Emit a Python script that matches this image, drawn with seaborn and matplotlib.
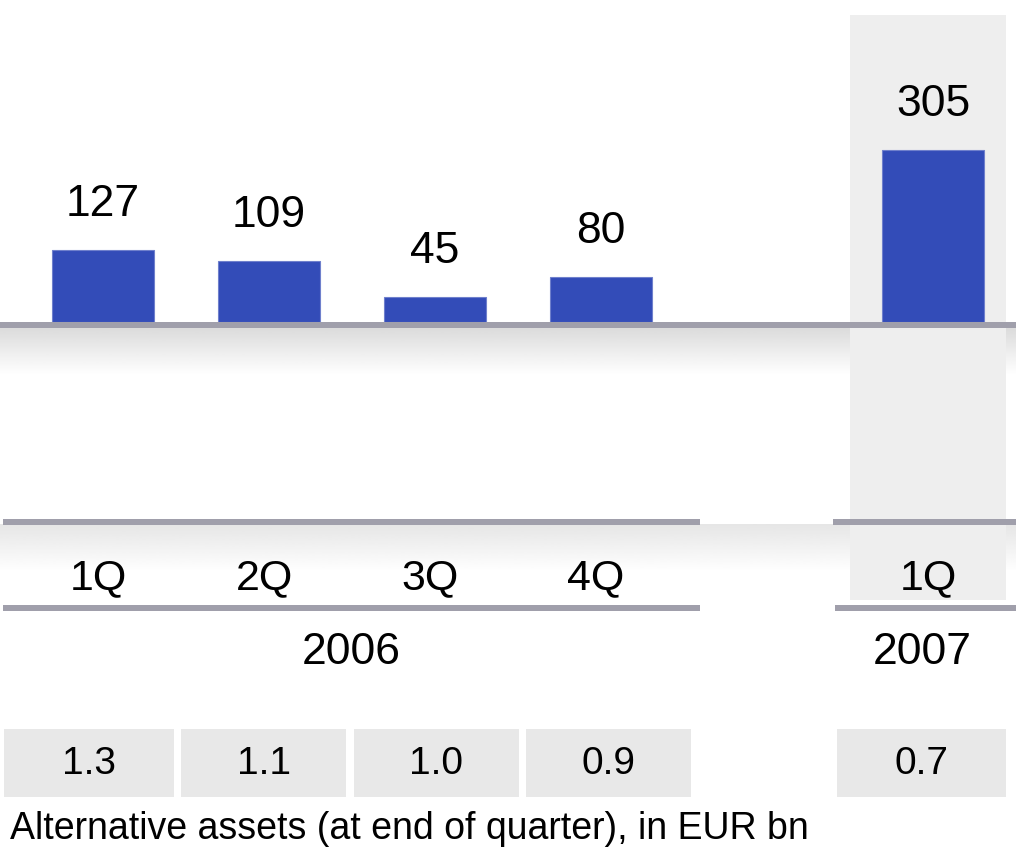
"""
plot.py

Alternative assets per quarter, bar chart with a highlighted latest quarter.
"""

import matplotlib
matplotlib.use("Agg")
import matplotlib.pyplot as plt
from matplotlib.patches import Rectangle
from matplotlib.transforms import blended_transform_factory
import numpy as np
import pandas as pd
import seaborn as sns

# =========================
# DATA
# =========================
quarters = ["1Q", "2Q", "3Q", "4Q", "1Q"]
positions = [0, 1, 2, 3, 5]
values = [127, 109, 45, 80, 305]
years = ["2006", "2007"]
ratios = ["1.3", "1.1", "1.0", "0.9", "0.7"]
caption = "Alternative assets (at end of quarter), in EUR bn"

BLUE = "#334cb8"
LINE = "#a09fab"
BOX = "#e8e8e8"
COLUMN = "#eeeeee"

sns.set_style("white")
plt.rcParams["font.family"] = ["Liberation Sans", "DejaVu Sans"]
plt.rcParams["text.color"] = "black"

W, H = 1016, 848
fig = plt.figure(figsize=(W / 100, H / 100), dpi=100)

# background axes in pixel coordinates
bg = fig.add_axes([0, 0, 1, 1])
bg.axis("off")
bg.set_zorder(0)

# highlighted 2007 column
bg.add_patch(Rectangle((850, 15), 156, 585, color=COLUMN, lw=0, zorder=1))


def gradient(y0, y1, x_spans, start):
    grad = np.linspace(start, 1.0, 64).reshape(-1, 1)
    for x0, x1 in x_spans:
        bg.imshow(grad, cmap="gray", vmin=0, vmax=1, aspect="auto",
                  extent=(x0, x1, y1, y0), zorder=0.5, interpolation="bilinear")


gradient(328, 375, [(0, 850), (1006, W)], 0.86)
gradient(524, 572, [(0, 850), (1006, W)], 0.90)
bg.set_xlim(0, W)
bg.set_ylim(H, 0)

# separator lines
lw = 6 * 72 / 100
bg.plot([0, W], [325, 325], color=LINE, lw=lw, solid_capstyle="butt", zorder=3)
for y, spans in [(521.5, [(3, 700), (833, W)]), (608, [(3, 700), (835, W)])]:
    for x0, x1 in spans:
        bg.plot([x0, x1], [y, y], color=LINE, lw=lw, solid_capstyle="butt", zorder=3)

# bar axes
base_px = 322
px_per_unit = 0.563
ax = fig.add_axes([0, 1 - base_px / H, 1, base_px / H])
ax.set_zorder(1)
ax.patch.set_visible(False)

df = pd.DataFrame({"pos": positions, "value": values})
sns.barplot(data=df, x="pos", y="value", native_scale=True, width=0.61,
            color=BLUE, saturation=1, edgecolor="#6f80cc", linewidth=0.8, ax=ax)
ax.set_xlim(-103 / 166, (W - 103) / 166)
ax.set_ylim(0, base_px / px_per_unit)
ax.axis("off")
ax.bar_label(ax.containers[0], labels=[str(v) for v in values],
             padding=18, fontsize=32, color="black")

# category labels, aligned with the bars
trans = blended_transform_factory(ax.transData, bg.transData)
for p, q in zip(positions, quarters):
    bg.text(p - 0.03, 578, q, transform=trans, ha="center", va="center",
            fontsize=31, zorder=4)

bg.text(351, 652, years[0], ha="center", va="center", fontsize=32, zorder=4)
bg.text(922, 652, years[1], ha="center", va="center", fontsize=32, zorder=4)

# ratio boxes
box_spans = [(4, 174), (181, 346), (354, 519), (526, 691), (837, 1006)]
for (x0, x1), r in zip(box_spans, ratios):
    bg.add_patch(Rectangle((x0, 729), x1 - x0, 68, color=BOX, lw=0, zorder=2))
    bg.text((x0 + x1) / 2, 764, r, ha="center", va="center",
            fontsize=28, zorder=4)

bg.text(10, 829, caption, ha="left", va="center", fontsize=27, zorder=4)

fig.savefig("out.png", dpi=100)
plt.close(fig)
